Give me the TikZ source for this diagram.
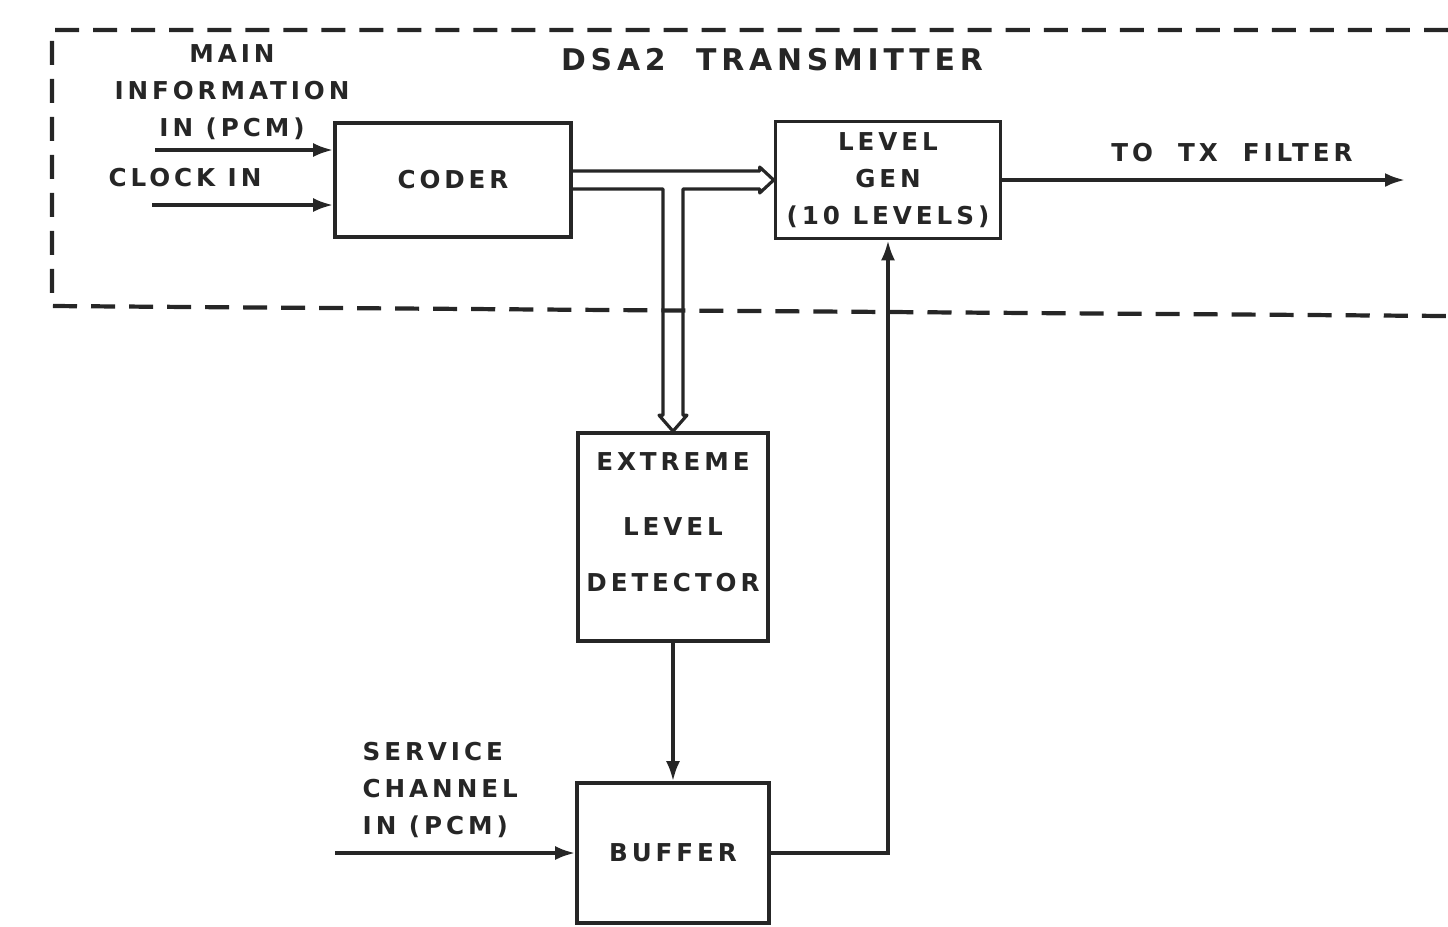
\documentclass[tikz,border=0pt]{standalone}
\usepackage{fontspec}
\usetikzlibrary{calc,arrows.meta}
\newfontfamily\lblfamily[LetterSpace=16]{DejaVu Sans}
\newcommand{\lbl}{\fontsize{7}{10.5}\selectfont\lblfamily\bfseries}
\newcommand{\ttl}{\fontsize{8.5}{10}\selectfont\lblfamily\bfseries}
\colorlet{ink}{black!85}
\tikzset{
  blk/.style={draw=ink, line width=1pt, align=center, text=ink, font=\lbl, inner sep=0pt},
  sig/.style={draw=ink, line width=1pt, -{Latex[length=2mm,width=1.4mm]}},
  bus/.style={draw=ink, line width=0.9pt, line join=round},
  txt/.style={text=ink, font=\lbl, align=center, inner sep=0pt},
  frame/.style={draw=ink, line width=1.2pt, dash pattern=on 0.24cm off 0.14cm}
}
\begin{document}
\begin{tikzpicture}[x=0.01cm,y=-0.01cm]
\useasboundingbox (0,0) rectangle (1448,926);

% transmitter boundary (open to the right)
\draw[frame] (1448,30) -- (52,30) -- (52,306) -- (1448,316);
\node[txt, font=\ttl] (title) at (772,60) {DSA2\ \ TRANSMITTER};

% blocks
\node[blk, minimum width=2.36cm, minimum height=1.14cm] (coder) at (453,180) {CODER};
\node[blk, minimum width=2.25cm, minimum height=1.17cm] (lgen) at (888,180) {LEVEL\\GEN\\(10 LEVELS)};
\node[blk, minimum width=1.90cm, minimum height=2.08cm] (det) at (673,537) {EXTREME\\[8pt]LEVEL\\[5.5pt]DETECTOR\\[-2pt]\mbox{}};
\node[blk, minimum width=1.92cm, minimum height=1.40cm] (buf) at (673,853) {BUFFER};

% labels
\node[txt] (mainlbl) at (232,92) {MAIN\\INFORMATION\\IN (PCM)};
\node[txt] (clklbl) at (185,178) {CLOCK IN};
\node[txt] (txlbl) at (1232,153) {TO\ \ TX\ \ FILTER};
\node[txt, align=left, anchor=west] (svclbl) at (362,790) {SERVICE\\CHANNEL\\IN (PCM)};

% free ends
\coordinate (mainin) at (155,150);
\coordinate (clkin) at (152,205);
\coordinate (txout) at (1405,180);
\coordinate (svcin) at (335,853);

\draw[sig] (mainin) -- (mainin -| coder.west);
\draw[sig] (clkin) -- (clkin -| coder.west);
\draw[sig] (lgen.east) -- (txout);
\draw[sig] (svcin) -- (buf.west);
\draw[sig] (det.south) -- (buf.north);
\draw[sig] (buf.east) -| (lgen.south);

% hollow bus from coder to level gen and detector
\coordinate (tl) at ($(coder.east)+(0,-9)$);
\coordinate (bl) at ($(coder.east)+(0,9)$);
\coordinate (ht) at ($(lgen.west)+(-14,-9)$);
\coordinate (hb) at ($(lgen.west)+(-14,9)$);
\coordinate (vl) at ($(det.north)+(-10,-16)$);
\coordinate (vr) at ($(det.north)+(10,-16)$);
\draw[bus] (tl) -- (ht) -- ++(0,-4) -- (lgen.west);
\draw[bus] (bl) -- (vl |- bl) -- (vl) -- ++(-4,0) -- (det.north);
\draw[bus] (lgen.west) -- ($(hb)+(0,4)$) -- (hb) -- (vr |- bl) -- (vr) -- ++(4,0) -- (det.north);
\end{tikzpicture}
\end{document}
